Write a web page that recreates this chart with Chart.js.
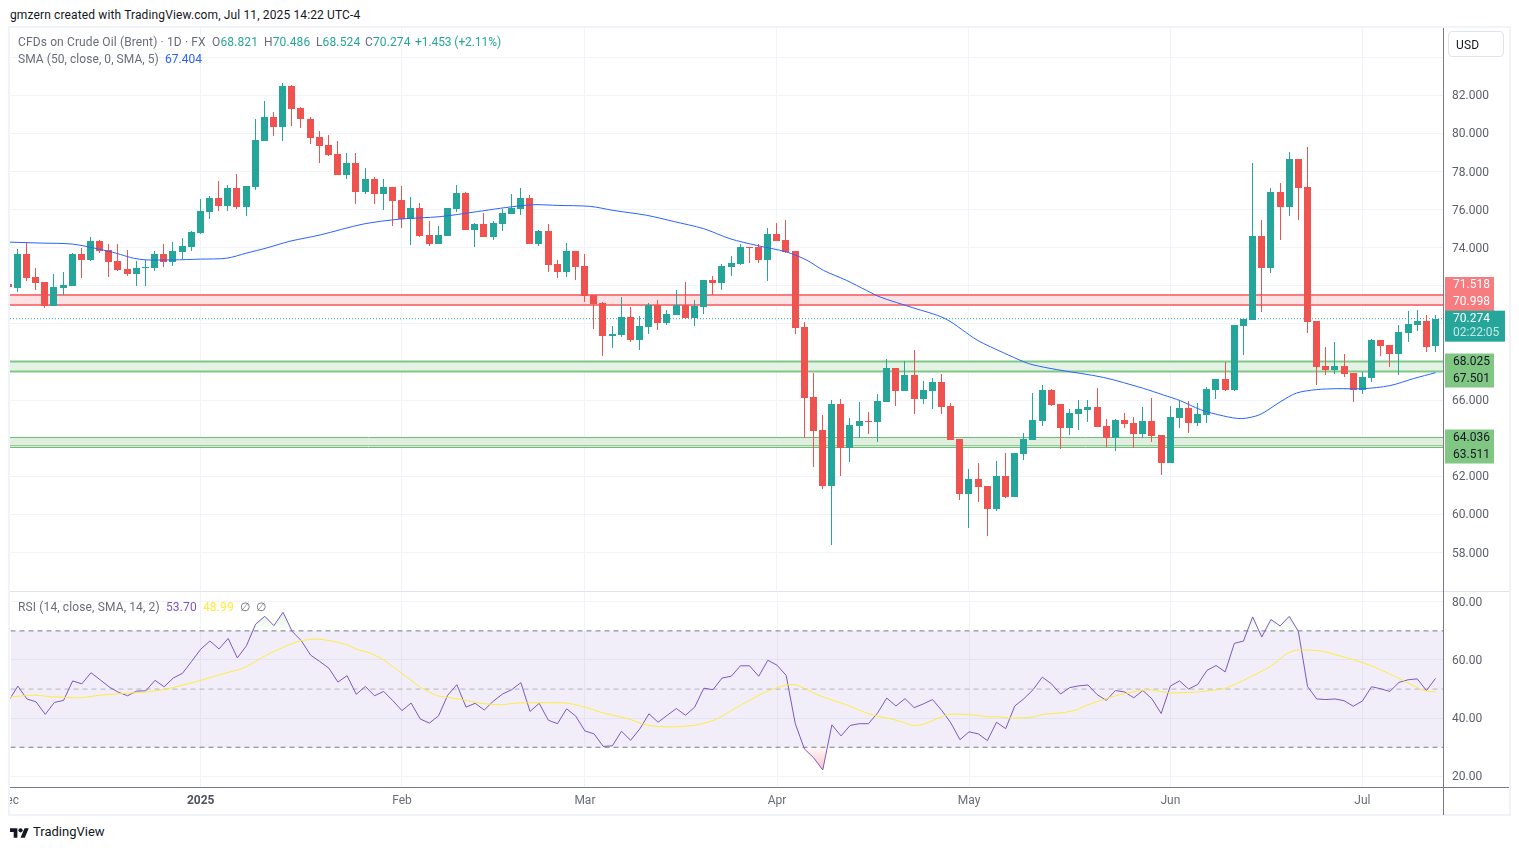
<!DOCTYPE html>
<html><head><meta charset="utf-8">
<script src="https://cdn.jsdelivr.net/npm/chart.js@4"></script>
<style>
html,body{margin:0;padding:0;background:#fff;width:1519px;height:850px;overflow:hidden}
body{font-family:Roboto,"Open Sans",sans-serif;font-size:12px;color:#6a6d78}
canvas{position:absolute;display:block}
.t{position:absolute;white-space:nowrap;line-height:16px;letter-spacing:.13px}
.l{position:absolute;background:#f0f3fa}
.g{color:#26a69a}
</style></head><body>
<div class="t" style="left:10px;top:7px;color:#131722">gmzern created with TradingView.com, Jul 11, 2025 14:22 UTC-4</div>
<div class="l" style="left:9px;top:26px;width:1501px;height:2px"></div>
<div class="l" style="left:9px;top:814px;width:1501px;height:2px"></div>
<div class="l" style="left:8px;top:26px;width:2px;height:790px"></div>
<div class="l" style="left:1509px;top:26px;width:2px;height:790px"></div>
<canvas id="main" width="1499" height="563" style="left:10px;top:28px"></canvas>
<canvas id="rsi" width="1499" height="223" style="left:10px;top:592px"></canvas>
<div class="l" style="left:10px;top:591px;width:1499px;height:1px;background:#e0e3eb"></div>
<div class="l" style="left:1443px;top:28px;width:1px;height:787px;background:#787b86"></div>
<div class="l" style="left:10px;top:787px;width:1499px;height:1px;background:#787b86"></div>
<div class="t" style="left:18px;top:34px">CFDs on Crude Oil (Brent) · 1D · FX</div>
<div class="t" style="left:212px;top:34px">O<span class="g">68.821</span></div>
<div class="t" style="left:264px;top:34px">H<span class="g">70.486</span></div>
<div class="t" style="left:316px;top:34px">L<span class="g">68.524</span></div>
<div class="t" style="left:365px;top:34px">C<span class="g">70.274</span></div>
<div class="t g" style="left:415px;top:34px;letter-spacing:-.08px">+1.453 (+2.11%)</div>
<div class="t" style="left:18px;top:51px;letter-spacing:.06px">SMA (50, close, 0, SMA, 5)&nbsp; <span style="color:#2962ff">67.404</span></div>
<div class="t" style="left:18px;top:599px">RSI (14, close, SMA, 14, 2)&nbsp; <span style="color:#7e57c2">53.70</span>&nbsp; <span style="color:#ffeb3b">48.99</span>&nbsp; ∅&nbsp; ∅</div>
<div class="t" style="left:1448px;top:31px;width:54px;height:24px;line-height:26px;border:1px solid #e0e3eb;border-radius:4px;color:#131722;text-indent:7px">USD</div>
<svg style="position:absolute;left:10px;top:826px" width="19" height="15" viewBox="0 0 36 28"><path fill="#131722" d="M14 22H7V11H0V4h14v18zM28 22h-8l7.5-18h8L28 22z"/><circle fill="#131722" cx="20" cy="8" r="4"/></svg>
<div class="t" style="left:33px;top:824px;color:#131722;font-size:13px;letter-spacing:0">TradingView</div>
<script>
const opens=[72.10,71.89,73.68,72.47,72.21,70.95,71.89,72.00,73.68,73.36,
74.36,73.89,73.31,72.89,72.63,72.94,72.94,73.68,73.26,73.78,
74.05,74.78,75.88,76.62,76.20,77.14,76.14,77.19,79.60,80.86,
80.34,82.49,81.34,80.76,79.81,79.39,78.92,77.81,78.44,76.92,
77.60,76.82,77.19,76.50,75.51,76.08,74.67,74.20,74.62,76.03,
76.87,74.93,75.24,74.56,75.24,75.77,76.03,76.61,74.20,74.88,
73.15,72.73,73.83,73.02,71.50,71.08,69.35,69.40,70.35,69.14,
69.82,70.98,70.03,70.45,70.98,70.29,70.87,72.29,72.13,72.97,
73.13,74.02,74.02,73.34,74.70,74.38,73.81,69.82,66.15,64.42,
61.48,65.78,63.48,64.63,64.89,64.85,65.90,67.68,66.47,67.31,
66.05,66.47,66.94,65.69,63.95,61.07,61.86,61.49,60.28,62.01,
60.91,63.17,63.90,64.90,66.52,65.79,64.53,65.27,65.48,65.63,
64.64,64.01,64.95,64.79,64.22,64.90,64.15,62.69,65.05,65.57,
64.78,65.20,66.51,67.09,66.51,69.87,70.19,74.64,72.91,76.90,
76.16,78.68,77.21,70.13,67.77,67.56,67.77,67.40,66.51,67.14,
69.14,68.87,68.40,69.50,69.92,70.13,68.821];
const highs=[72.20,73.94,74.29,72.94,72.21,72.63,72.73,73.73,73.99,74.57,
74.41,74.20,74.20,73.89,73.31,73.36,73.84,74.20,74.31,74.52,
74.88,76.56,76.72,77.51,77.30,77.87,77.24,80.76,81.70,81.13,
82.65,82.54,81.40,80.85,80.10,79.91,79.60,78.97,78.97,78.18,
77.71,77.60,77.19,77.24,76.66,76.35,75.40,75.14,76.08,77.29,
76.92,75.30,75.82,75.40,76.03,76.82,77.13,76.77,74.93,75.24,
73.36,74.25,73.83,73.65,71.50,71.13,69.87,71.40,70.87,70.40,
71.08,71.24,70.71,71.76,72.18,71.24,72.29,72.50,73.13,73.55,
74.18,74.02,74.18,75.01,75.28,75.43,73.81,70.08,67.41,65.20,
65.99,66.05,65.05,65.89,65.36,66.31,68.15,67.68,68.05,68.62,
67.00,67.15,67.36,65.84,63.95,62.38,62.70,61.49,62.80,63.22,
63.22,64.27,66.37,66.79,66.58,65.79,65.53,66.00,66.00,66.63,
65.00,65.00,65.32,65.11,65.63,66.10,64.16,65.67,65.94,65.94,
65.83,66.67,67.09,67.98,69.92,70.24,78.47,75.48,77.11,77.42,
79.00,78.68,79.31,70.13,68.77,69.03,68.40,67.40,67.46,69.19,
69.14,68.87,69.92,70.66,70.71,70.45,70.486];
const lows=[71.85,71.69,72.26,71.79,70.85,70.95,71.53,72.00,72.42,73.31,
73.73,72.47,72.79,72.52,72.00,72.00,72.79,73.00,73.05,73.42,
73.84,74.73,75.51,75.93,75.93,76.04,75.67,77.03,79.60,79.87,
79.60,80.39,80.30,79.44,78.44,78.81,77.81,77.60,76.30,76.82,
76.30,75.98,75.14,75.03,74.14,74.56,74.09,74.20,74.62,75.87,
74.93,74.04,74.56,74.40,74.88,75.77,75.72,74.20,74.09,72.73,
72.41,72.47,72.31,71.13,69.72,68.30,68.72,69.30,69.03,68.62,
69.45,69.66,69.93,70.45,70.24,69.87,70.50,71.50,71.76,72.50,
73.07,73.18,73.18,72.23,74.33,73.70,69.45,64.00,62.48,61.33,
58.39,62.00,62.74,64.00,64.21,63.80,65.90,65.69,66.47,65.27,
65.79,65.53,65.27,63.90,60.76,59.29,60.65,58.87,60.18,60.86,
60.91,62.85,63.90,64.64,65.69,63.43,64.16,64.43,64.85,64.58,
63.53,63.33,64.53,63.48,64.01,63.80,62.06,62.69,64.52,64.26,
64.63,64.78,66.04,66.46,66.46,68.35,70.19,70.60,72.65,74.38,
75.64,75.48,69.50,66.78,67.30,67.35,67.20,65.88,66.30,66.93,
68.30,67.72,67.30,69.03,69.61,68.51,68.524];
const closes=[71.92,73.68,72.42,72.16,70.95,71.95,72.05,73.68,73.36,74.36,
73.84,73.26,72.84,72.63,72.94,73.00,73.68,73.26,73.84,74.10,
74.83,75.93,76.62,76.20,77.14,76.14,77.24,79.66,80.86,80.34,
82.49,81.28,80.76,79.76,79.34,78.86,77.81,78.44,76.92,77.60,
76.82,77.19,76.45,75.51,76.08,74.62,74.20,74.67,76.08,76.87,
74.93,75.24,74.56,75.30,75.82,76.08,76.61,74.20,74.88,73.09,
72.73,73.83,72.99,71.45,71.03,69.35,69.45,70.35,69.14,69.87,
70.98,70.03,70.50,70.98,70.29,70.92,72.29,72.13,73.02,73.18,
74.02,73.97,73.34,74.70,74.33,73.76,69.77,66.10,64.37,61.48,
65.78,63.48,64.68,64.89,64.84,65.95,67.68,66.47,67.31,66.05,
66.52,66.94,65.63,63.90,61.07,61.86,61.44,60.28,62.01,60.91,
63.22,63.95,64.95,66.52,65.74,64.53,65.32,65.53,65.63,64.58,
64.01,64.95,64.74,64.22,64.90,64.11,62.69,65.10,65.57,64.78,
65.26,66.57,67.09,66.51,69.92,70.24,74.64,72.91,76.90,76.16,
78.68,77.16,70.08,67.72,67.56,67.77,67.35,66.51,67.20,69.14,
68.82,68.40,69.56,69.98,70.13,68.77,70.274];
const rsiValues=[45.9,51.0,46.6,45.6,41.3,45.4,46.1,52.8,51.8,55.6,
53.2,50.7,48.9,47.7,49.3,49.4,53.0,50.8,53.8,55.4,
59.5,63.7,66.5,63.8,67.4,60.7,64.9,72.3,75.0,71.8,
76.4,69.8,66.6,61.7,59.5,57.2,52.4,54.6,48.2,50.9,
47.7,49.2,46.0,42.6,45.2,39.7,38.3,40.8,47.9,51.5,
43.8,45.1,42.8,45.9,48.3,49.8,52.2,42.3,45.1,39.3,
38.1,43.2,40.7,35.6,34.6,30.3,30.5,35.5,32.4,36.3,
41.5,38.6,41.0,43.3,41.0,43.8,50.3,49.8,53.8,54.4,
58.0,58.0,54.4,59.9,58.2,54.7,38.1,29.4,26.4,22.2,
37.7,33.9,37.5,38.1,38.1,41.8,46.9,44.2,46.7,43.6,
44.9,46.4,42.7,38.4,32.6,35.3,34.6,32.3,38.6,36.4,
44.2,46.7,49.8,54.1,51.8,48.3,50.5,51.1,51.4,48.1,
46.1,49.5,49.0,47.0,49.5,46.6,41.6,51.0,52.8,50.0,
51.6,56.4,58.1,55.9,65.7,66.5,74.8,67.9,73.9,71.7,
75.0,69.8,50.9,46.6,46.4,46.6,46.0,44.1,45.9,50.8,
50.1,49.2,52.3,53.2,53.5,49.5,53.7];
const smaBars=[-0.8,2.8,6,9,10.8,12.7,14.1,17,20,22.9,25,27.2,29.8,33.1,37.8,41.8,46.2,50.2,52.8,55.3,56.8,59,62.6,65.1,68.8,71.7,75,77.9,80.8,84.1,86.3,88.1,90.6,92.8,94.3,97.8,101.4,104.9,107.8,110,111,113.6,118.7,123.1,125.3,127.1,129.3,131.8,133.8,135.8,138,139.8,142,144.2,147.1,150,152.6,155];
const smaValues=[74.29,74.24,74.19,73.92,73.71,73.45,73.36,73.36,73.40,73.45,73.71,73.98,74.34,74.67,75.24,75.50,75.63,75.89,76.07,76.22,76.26,76.22,76.17,75.96,75.70,75.38,75.00,74.47,74.12,73.77,73.34,72.81,72.29,71.76,71.41,70.86,70.28,69.15,68.48,68.01,67.85,67.60,67.19,66.61,66.26,65.97,65.50,65.17,65.03,65.24,65.90,66.37,66.55,66.60,66.60,66.76,67.13,67.44];
const rsiMaBars=[-0.8,1.7,3.6,6.8,9,11.6,14.1,16.3,20,21.8,24.7,27.2,29.4,30.9,32.7,34.2,36,37.1,38.5,40,41.8,44,45.8,48.4,50.6,52.8,54.6,60,62.2,64,66.6,68.8,71,73.9,76.1,79,81.9,84.1,85.2,87.7,90.6,93.2,95.8,97.9,99,101.8,104.5,106,107.4,108.9,111,112.1,114.3,115.8,116.9,119.8,122.7,123.8,126,128.9,131.9,134,136.9,138.7,139.8,142.4,145.7,147.9,150.4,153.7,155];
const rsiMaValues=[47.3,47.9,47.4,47.0,47.9,48.5,49.0,50.0,53.0,54.7,57.3,61.7,64.9,66.6,67.2,66.6,65.2,63.6,62.4,60.0,55.8,50.7,47.8,46.5,45.1,44.6,45.2,45.2,43.6,41.8,39.9,37.6,37.0,37.5,39.3,44.4,49.2,51.5,51.3,47.7,44.6,41.3,39.5,37.5,37.9,41.3,41.1,40.5,40.4,40.0,40.4,41.3,41.9,42.9,44.5,47.5,49.5,49.7,48.7,49.0,50.2,53.0,57.7,62.1,63.4,63.1,60.4,58.1,54.6,49.5,49.0];
const monthBars=[-1,20,42,62,83,104,126,147];
const monthLabels=["Dec","2025","Feb","Mar","Apr","May","Jun","Jul"];
const priceTicks=[84,82,80,78,76,74,72,70,68,66,64,62,60,58];
const hiddenPriceTicks=[84,72,70,68,64];
const rsiTicks=[80,60,40,20];
const rsiLevels=[70,50,30];
const resistanceZone=[71.518,70.998];
const supportZone=[68.025,67.501];
const lowerZone=[64.036,63.6,63.511];
const lastPrice=70.274, countdown="02:22:05";

const UP='#26a69a',DOWN='#ef5350',GRID='#f0f3fa',FONT='Roboto,"Open Sans",sans-serif';
const XMIN=-0.798,XMAX=155.92,span=[XMIN,XMAX];
const barX=k=>k-1;
const colours=closes.map((c,k)=>c>=opens[k]?UP:DOWN);
const hline=(v,o)=>Object.assign({type:'line',data:span.map(x=>({x,y:v})),pointRadius:0,borderWidth:1,order:6},o);
const noPad=a=>{a.paddingLeft=a.paddingRight=a.paddingTop=a.paddingBottom=0;};

const pixelSnap={id:'pixelSnap',beforeDatasetsDraw(chart){
  chart.data.datasets.forEach((d,n)=>{ if(d.type==='line')return;
    chart.getDatasetMeta(n).data.forEach(e=>{
      e.x=Math.floor(e.x)+.5; e.y=Math.round(e.y); e.base=Math.round(e.base);
      if(Math.abs(e.y-e.base)<1)e.base=e.y+1;
    });
  });
}};
const badges={id:'badges',afterDraw(chart){
  const c=chart.ctx,y=chart.scales.y,L=chart.chartArea.right+1;
  c.save();c.font='12px '+FONT;c.textBaseline='middle';c.textAlign='left';
  const pair=(a,b,bg,fg,shift)=>{const t=y.getPixelForValue(a)+shift;
    c.fillStyle=bg;c.fillRect(L,t-8,49,34);
    c.fillStyle=fg;c.fillText(a.toFixed(3),L+8,t+.5);c.fillText(b.toFixed(3),L+8,t+17.5);};
  pair(resistanceZone[0],resistanceZone[1],'#f77c80','#fff',-10);
  pair(supportZone[0],supportZone[1],'#81c784','#131722',0);
  pair(lowerZone[0],lowerZone[2],'#81c784','#131722',0);
  const t=y.getPixelForValue(lastPrice);
  c.fillStyle=UP;c.fillRect(L,t-8,60,31);
  c.fillStyle='#fff';c.fillText(lastPrice.toFixed(3),L+8,t+.5);
  c.fillStyle='#c4e8e4';c.fillText(countdown,L+8,t+14.5);
  c.restore();
}};
const xScale=(showLabels)=>({type:'linear',min:XMIN,max:XMAX,offset:false,
  afterBuildTicks:a=>{a.ticks=monthBars.map(v=>({value:v}));},
  afterFit:a=>{a.height=showLabels?28:0;noPad(a);},
  border:{display:false},
  grid:{color:GRID,drawTicks:false,offset:false},
  ticks:{display:showLabels,autoSkip:false,maxRotation:0,padding:7,
    callback:(v)=>monthLabels[monthBars.indexOf(v)],
    color:c=>c.tick&&c.tick.value===20?'#50535e':'#6a6d78',
    font:c=>({family:FONT,size:12,weight:c.tick&&c.tick.value===20?'bold':'normal'})}});
const yScale=(lo,hi,ticks,fmt)=>({position:'right',min:lo,max:hi,
  afterBuildTicks:a=>{a.ticks=ticks.map(v=>({value:v}));},
  afterFit:a=>{a.width=65;noPad(a);},
  border:{display:false},
  grid:{color:GRID,drawTicks:false},
  ticks:{padding:8,crossAlign:'near',labelOffset:1,color:'#5d606b',font:{family:FONT,size:12},callback:fmt}});

new Chart(document.getElementById('main'),{
  type:'bar',plugins:[pixelSnap,badges],
  data:{datasets:[
    {type:'line',label:'SMA',data:smaBars.map((x,k)=>({x,y:smaValues[k]})),borderColor:'#2962ff',borderWidth:1,pointRadius:0,tension:.3,order:0},
    {label:'Body',data:opens.map((o,k)=>({x:barX(k),y:[o,closes[k]]})),backgroundColor:colours,barThickness:7,grouped:false,borderWidth:0,inflateAmount:0,order:1},
    {label:'Wick',data:highs.map((h,k)=>({x:barX(k),y:[lows[k],h]})),backgroundColor:colours,barThickness:1,grouped:false,borderWidth:0,inflateAmount:0,order:2},
    hline(lastPrice,{borderColor:UP,borderDash:[1,2],order:3}),
    hline(resistanceZone[0],{borderColor:'#f77c80',borderWidth:2,fill:'+1',backgroundColor:'#fde2e3',order:5}),
    hline(resistanceZone[1],{borderColor:'#f77c80',borderWidth:2,order:4}),
    hline(supportZone[0],{borderColor:'#81c784',borderWidth:2,fill:'+1',backgroundColor:'#e5f3e6',order:5}),
    hline(supportZone[1],{borderColor:'#81c784',borderWidth:2,order:4}),
    hline(lowerZone[0],{borderColor:'#72bb76',fill:'+1',backgroundColor:'#dfeedf',order:5}),
    hline(lowerZone[1],{borderColor:'#72bb76',order:4}),
    hline(lowerZone[2],{borderColor:'#72bb76',order:4})
  ]},
  options:{responsive:false,animation:false,events:[],layout:{padding:0},
    plugins:{legend:{display:false},tooltip:{enabled:false}},
    scales:{x:xScale(false),
      y:yScale(55.979,85.533,priceTicks,v=>hiddenPriceTicks.includes(v)?'':v.toFixed(3))}}
});
const rsiChart=new Chart(document.getElementById('rsi'),{
  type:'line',
  data:{datasets:[
    {label:'RSI',data:rsiValues.map((y,k)=>({x:barX(k),y})),borderColor:'#7e57c2',borderWidth:1,pointRadius:0,order:1,
     fill:{target:{value:rsiLevels[0]},above:'rgba(76,175,80,.12)',below:'rgba(0,0,0,0)'}},
    {label:'RSI low',data:rsiValues.map((y,k)=>({x:barX(k),y})),borderColor:'rgba(0,0,0,0)',borderWidth:0,pointRadius:0,order:2,
     fill:{target:{value:rsiLevels[2]},above:'rgba(0,0,0,0)',below:'rgba(242,54,69,.15)'}},
    {label:'RSI MA',data:rsiMaBars.map((x,k)=>({x,y:rsiMaValues[k]})),borderColor:'#ffeb3b',borderWidth:1,pointRadius:0,tension:.2,order:0},
    hline(rsiLevels[0],{borderColor:'#787b86',borderDash:[5,4],fill:'+2',backgroundColor:'rgba(126,87,194,.1)',order:5}),
    hline(rsiLevels[1],{borderColor:'rgba(120,123,134,.5)',borderDash:[5,4],order:4}),
    hline(rsiLevels[2],{borderColor:'#787b86',borderDash:[5,4],order:4})
  ]},
  options:{responsive:false,animation:false,events:[],layout:{padding:0},
    plugins:{legend:{display:false},tooltip:{enabled:false}},
    scales:{x:xScale(true),y:yScale(16.34,83.19,rsiTicks,v=>v.toFixed(2))}}
});
/* fade the overbought and oversold fills away from their levels */
const ry=rsiChart.scales.y,rc=rsiChart.ctx;
const fade=(from,to,rgb,a0,a1)=>{const g=rc.createLinearGradient(0,ry.getPixelForValue(from),0,ry.getPixelForValue(to));
  g.addColorStop(0,`rgba(${rgb},${a0})`);g.addColorStop(1,`rgba(${rgb},${a1})`);return g;};
rsiChart.data.datasets[0].fill.above=fade(rsiLevels[0],76,'76,175,80',.02,.16);
rsiChart.data.datasets[1].fill.below=fade(rsiLevels[2],22,'242,54,69',.03,.3);
rsiChart.update('none');
</script>
</body></html>
